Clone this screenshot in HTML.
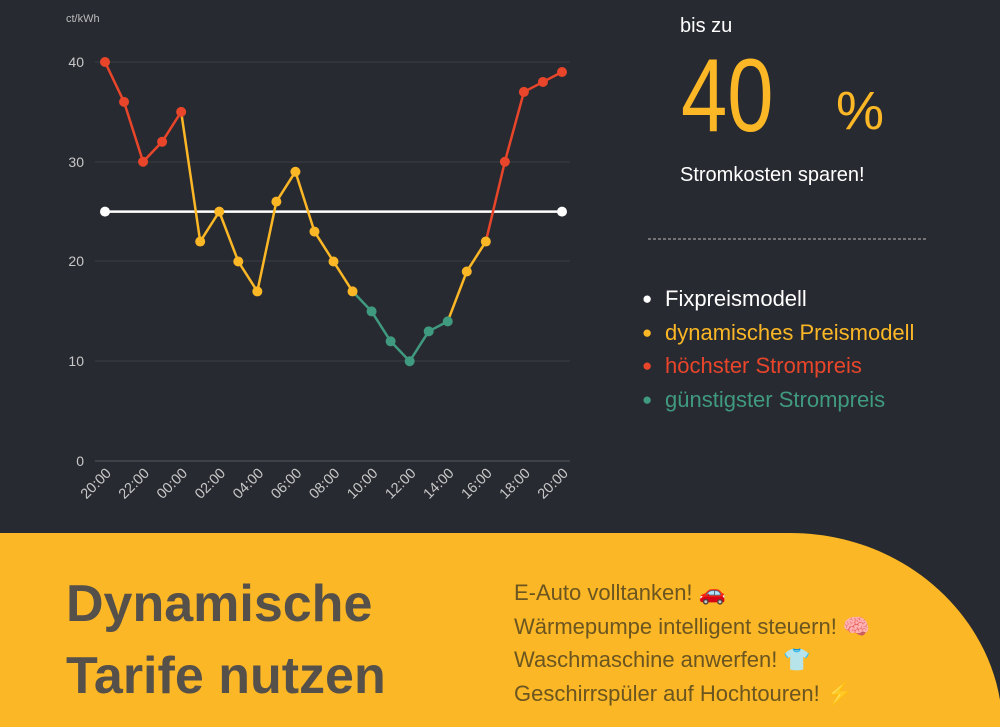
<!DOCTYPE html>
<html><head><meta charset="utf-8"><style>
body{margin:0;width:1000px;height:727px;background:#282a31;overflow:hidden;position:relative;font-family:"Liberation Sans",sans-serif}
.t{position:absolute;white-space:nowrap}
.lg div{height:33.5px;line-height:33.5px}
.lg span{font-size:17px;display:inline-block;width:23px;vertical-align:top}
</style></head><body>
<svg width="1000" height="727" style="position:absolute;left:0;top:0">
<g stroke="#3a3d45" stroke-width="1">
<line x1="95" y1="62" x2="570" y2="62"/><line x1="95" y1="162" x2="570" y2="162"/>
<line x1="95" y1="261" x2="570" y2="261"/><line x1="95" y1="361" x2="570" y2="361"/>
</g>
<line x1="95" y1="461" x2="570" y2="461" stroke="#55585f"/>
<g font-size="14" fill="#c8c8c8" text-anchor="end">
<text x="84" y="67">40</text><text x="84" y="167">30</text><text x="84" y="266">20</text><text x="84" y="366">10</text><text x="84" y="466">0</text>
</g>
<text x="66" y="22" font-size="11" fill="#bbb">ct/kWh</text>
<g id="pl"></g>
<g font-size="14.5" fill="#c8c8c8" id="xl"></g>
<path d="M0 533 L790 533 C900 533 985 610 1000 700 L1000 727 L0 727 Z" fill="#fbb725"/>
<line x1="648" y1="239" x2="926" y2="239" stroke="#bbb" stroke-dasharray="3,2" stroke-width="1"/>
</svg>
<div class="t" style="left:680px;top:15px;font-size:20px;color:#fff">bis zu</div>
<div class="t" style="left:681px;top:37px;font-size:104px;color:#fbb725;transform:scaleX(0.8);transform-origin:0 0">40</div>
<div class="t" style="left:836px;top:80px;font-size:54px;color:#fbb725">%</div>
<div class="t" style="left:680px;top:164px;font-size:20px;color:#fff">Stromkosten sparen!</div>
<div class="t lg" style="left:642px;top:282px;font-size:22px">
<div style="color:#fff"><span>●</span>Fixpreismodell</div>
<div style="color:#fbb725"><span>●</span>dynamisches Preismodell</div>
<div style="color:#e8452a"><span>●</span>höchster Strompreis</div>
<div style="color:#3f9a7f"><span>●</span>günstigster Strompreis</div>
</div>
<div class="t" style="left:66px;top:568px;font-size:52px;font-weight:bold;color:#55504a;line-height:72px">Dynamische<br>Tarife nutzen</div>
<div class="t" style="left:514px;top:576px;font-size:22px;color:#6b5520;line-height:33.5px">E-Auto volltanken! 🚗<br>Wärmepumpe intelligent steuern! 🧠<br>Waschmaschine anwerfen! 👕<br>Geschirrspüler auf Hochtouren! ⚡</div>
<script>
var d=[40,36,30,32,35,22,25,20,17,26,29,23,20,17,15,12,10,13,14,19,22,30,37,38,39];
function c(v){return v>=30?"#e8452a":v<=15?"#3f9a7f":"#fbb725"}
var X=i=>105+i*457/24,Y=v=>461-v*9.975,s="";
s+='<line x1="105" y1="'+Y(25)+'" x2="562" y2="'+Y(25)+'" stroke="#fff" stroke-width="2.5"/>';
s+='<circle cx="105" cy="'+Y(25)+'" r="5" fill="#fff"/><circle cx="562" cy="'+Y(25)+'" r="5" fill="#fff"/>';
for(var i=1;i<25;i++)s+='<line x1="'+X(i-1)+'" y1="'+Y(d[i-1])+'" x2="'+X(i)+'" y2="'+Y(d[i])+'" stroke="'+c(d[i])+'" stroke-width="2.5"/>';
for(i=0;i<25;i++)s+='<circle cx="'+X(i)+'" cy="'+Y(d[i])+'" r="5" fill="'+c(d[i])+'"/>';
document.getElementById("pl").innerHTML=s;
var t="";for(i=0;i<25;i+=2){var h=(20+i)%24;h=(h<10?"0":"")+h+":00";t+='<text transform="translate('+(X(i)+7)+',474) rotate(-45)" text-anchor="end">'+h+'</text>';}
document.getElementById("xl").innerHTML=t;
</script>
</body></html>
